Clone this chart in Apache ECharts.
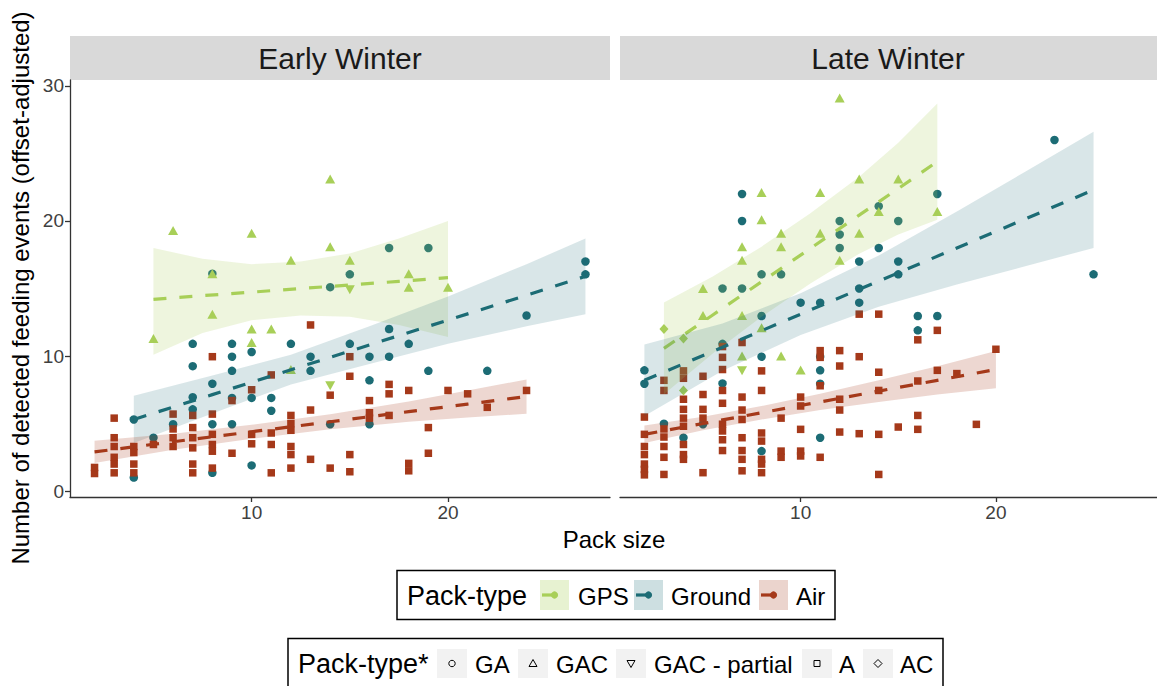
<!DOCTYPE html>
<html><head><meta charset="utf-8">
<script src="https://cdn.jsdelivr.net/npm/echarts@6/dist/echarts.min.js"></script>
<style>html,body{margin:0;padding:0;background:#fff}#c{width:1157px;height:686px}</style>
</head><body><div id="c"></div>
<script>
// ---------- data ----------
const panelTitles = ['Early Winter', 'Late Winter'];
const xTicks = [10, 20];
const yTicks = [0, 10, 20, 30];
const packTypes = ['GPS', 'Ground', 'Air'];
const packTypesStar = ['GA', 'GAC', 'GAC - partial', 'A', 'AC'];

// Early winter points
const early_GPS_GAC = [[5,11.3],[6,19.3],[8,13.1],[8,16.1],[10,19.1],[10,12.0],[10,11.0],[11,12.0],[12,17.1],[12,9.0],[14,23.1],[14,18.1],[15,17.1],[18,16.1],[18,15.1],[20,15.1]];
const early_GPS_GACp = [[14,7.8],[15,14.9]];
const early_GPS_AC = [];
const early_Ground_GA = [[4,5.3],[4,1.0],[5,3.95],[6,4.95],[7,10.9],[7,9.25],[7,6.95],[7,6.05],[8,16.1],[8,7.95],[8,4.95],[8,1.35],[9,10.9],[9,9.95],[9,8.9],[9,6.9],[9,4.95],[10,10.3],[10,6.9],[10,1.9],[11,6.9],[11,5.95],[12,10.9],[13,9.95],[13,8.9],[14,15.1],[14,4.95],[15,16.05],[15,10.9],[16,9.95],[16,8.2],[16,4.95],[17,18.0],[17,12.0],[17,9.95],[18,10.9],[19,18.0],[19,8.9],[22,8.9],[24,13.0],[27,17.0],[27,16.05]];
const early_Air_A = [[2,1.3],[2,1.75],[3,5.4],[3,3.95],[3,3.3],[3,2.5],[3,2.0],[3,1.35],[4,3.3],[4,2.85],[4,2.0],[4,1.35],[5,3.45],[6,5.7],[6,4.6],[6,3.95],[6,3.3],[7,5.6],[7,4.7],[7,3.95],[7,3.2],[7,2.0],[7,1.35],[8,9.95],[8,5.7],[8,4.2],[8,3.45],[8,2.95],[8,1.7],[9,6.7],[9,2.8],[10,7.5],[10,4.2],[10,3.5],[11,8.6],[11,4.3],[11,3.45],[11,1.35],[12,5.6],[12,5.0],[12,4.5],[12,3.3],[12,2.7],[12,1.7],[13,12.3],[13,6.0],[13,2.35],[14,7.1],[14,1.7],[15,9.95],[15,8.5],[15,2.7],[15,1.43],[16,6.7],[16,5.8],[16,5.4],[17,7.9],[17,7.2],[17,5.6],[18,7.45],[18,2.05],[18,1.5],[19,4.7],[19,2.8],[20,7.45],[21,7.2],[22,6.2],[24,7.45]];

// Late winter points
const late_GPS_GAC = [[5,15.0],[5,13.0],[7,18.1],[7,17.1],[7,13.0],[7,10.0],[8,22.1],[8,20.1],[8,12.1],[9,19.1],[9,18.1],[9,10.0],[10,8.96],[11,22.1],[11,19.1],[12,29.1],[12,17.1],[13,23.1],[13,19.1],[14,20.7],[15,23.1],[17,20.7]];
const late_GPS_GACp = [[7,8.9]];
const late_GPS_AC = [[3,12.0],[4,11.3],[4,7.45]];
const late_Ground_GA = [[2,8.94],[2,7.95],[3,4.99],[4,3.95],[5,4.95],[6,15.0],[6,10.9],[6,7.97],[7,22.0],[7,20.0],[7,15.0],[8,16.05],[8,12.96],[8,9.95],[8,2.96],[9,16.05],[10,13.95],[11,13.95],[11,9.95],[11,8.94],[11,7.95],[11,3.95],[12,20.0],[12,19.0],[12,18.0],[13,17.0],[13,15.0],[13,13.95],[14,21.1],[14,18.0],[15,20.0],[15,17.0],[15,16.05],[16,12.96],[16,11.9],[17,22.0],[17,12.96],[23,26.0],[25,16.05]];
const late_Air_A = [[2,5.48],[2,4.2],[2,3.3],[2,2.7],[2,2.0],[2,1.6],[2,1.2],[3,8.2],[3,7.45],[3,4.6],[3,4.0],[3,3.3],[3,2.5],[3,1.23],[4,8.9],[4,8.35],[4,6.8],[4,6.05],[4,5.4],[4,4.8],[4,3.45],[4,2.7],[4,2.35],[5,8.5],[5,7.15],[5,6.05],[5,5.4],[5,1.36],[6,10.7],[6,9.9],[6,9.0],[6,7.45],[6,6.5],[6,4.95],[6,4.45],[6,3.8],[6,3.0],[7,11.0],[7,6.96],[7,6.0],[7,5.3],[7,3.95],[7,3.0],[7,2.35],[7,1.5],[8,8.9],[8,7.45],[8,4.3],[8,3.7],[8,2.35],[8,2.0],[8,1.36],[9,5.4],[9,2.96],[9,2.5],[10,6.96],[10,6.3],[10,4.57],[10,2.96],[10,2.6],[11,10.4],[11,9.9],[11,7.8],[11,2.5],[12,10.4],[12,9.26],[12,6.8],[12,6.0],[12,4.37],[13,13.1],[13,9.95],[13,4.25],[14,13.1],[14,8.8],[14,7.45],[14,4.2],[14,1.23],[15,4.74],[16,11.2],[16,8.15],[16,5.6],[16,4.57],[17,11.9],[17,8.94],[18,8.7],[19,4.94],[20,10.5]];

// Fitted trends and confidence bands
const early_GPS_bx  = [5, 7.5, 10, 12.5, 15, 17.5, 20];
const early_GPS_fit = [14.2, 14.47, 14.73, 15.0, 15.26, 15.53, 15.8];
const early_GPS_lo  = [10.1, 11.7, 12.65, 13.0, 12.9, 12.3, 11.4];
const early_GPS_hi  = [18.0, 17.2, 16.8, 17.0, 17.6, 18.7, 20.0];

const early_Ground_bx  = [4, 8, 12, 16, 20, 24, 27];
const early_Ground_fit = [5.3, 7.14, 8.98, 10.82, 12.66, 14.5, 15.9];
const early_Ground_lo  = [3.55, 5.75, 7.9, 9.4, 10.9, 12.2, 13.1];
const early_Ground_hi  = [7.05, 8.55, 10.1, 12.2, 14.4, 16.8, 18.7];

const early_Air_bx  = [2, 6, 10, 14, 18, 21, 24];
const early_Air_fit = [2.9, 3.65, 4.39, 5.13, 5.88, 6.44, 7.0];
const early_Air_lo  = [2.07, 3.05, 3.87, 4.58, 5.13, 5.44, 5.73];
const early_Air_hi  = [3.73, 4.25, 4.91, 5.68, 6.63, 7.44, 8.27];

const late_GPS_bx  = [3, 5.5, 8, 10.5, 13, 15, 17];
const late_GPS_fit = [10.57, 13.04, 15.5, 17.97, 20.43, 22.4, 24.4];
const late_GPS_lo  = [7.17, 10.19, 12.9, 15.37, 17.58, 19.0, 20.1];
const late_GPS_hi  = [13.97, 15.89, 18.1, 20.57, 23.28, 25.8, 28.7];

const late_Ground_bx  = [2, 6, 10, 14, 18, 21.5, 25];
const late_Ground_fit = [8.2, 10.65, 13.1, 15.55, 18.0, 20.15, 22.3];
const late_Ground_lo  = [5.55, 8.9, 11.55, 13.65, 15.3, 16.65, 18.0];
const late_Ground_hi  = [10.85, 12.4, 14.65, 17.45, 20.7, 23.65, 26.6];

const late_Air_bx  = [2, 5, 8, 11, 14, 17, 20];
const late_Air_fit = [4.2, 5.0, 5.8, 6.6, 7.4, 8.2, 9.0];
const late_Air_lo  = [3.55, 4.5, 5.3, 6.0, 6.6, 7.15, 7.62];
const late_Air_hi  = [4.85, 5.5, 6.3, 7.2, 8.2, 9.25, 10.38];

// ---------- styling ----------
const FONT = "'Liberation Sans', Arial, Helvetica, sans-serif";
const COL = { GPS: '#a8cf58', Ground: '#1c6c75', Air: '#a5391a' };
const BAND = { GPS: 'rgba(168,207,88,0.2)', Ground: 'rgba(28,108,117,0.17)', Air: 'rgba(165,57,26,0.2)' };
const KEYBG = { GPS: 'rgba(168,207,88,0.28)', Ground: 'rgba(28,108,117,0.22)', Air: 'rgba(165,57,26,0.22)' };
const XMIN = 0.75, XMAX = 28.25, YMIN = -0.44, YMAX = 30.44;

const chart = echarts.init(document.getElementById('c'), null, { renderer: 'svg' });

function pts(name, g, data, symbol, size, color, rotate) {
  return { name, type: 'scatter', xAxisIndex: g, yAxisIndex: g, data, symbol, symbolSize: size,
    symbolRotate: rotate || 0, z: 2, silent: true,
    itemStyle: { color, opacity: 1 } };
}
function band(g, xs, lo, hi, fill, z) {
  return { type: 'custom', xAxisIndex: g, yAxisIndex: g, z, silent: true,
    data: [[xs[0], lo[0]]],
    renderItem: (params, api) => {
      const p = [];
      for (let i = 0; i < xs.length; i++) p.push(api.coord([xs[i], hi[i]]));
      for (let i = xs.length - 1; i >= 0; i--) p.push(api.coord([xs[i], lo[i]]));
      return { type: 'polygon', shape: { points: p }, style: { fill } };
    } };
}
function fit(name, g, xs, ys, color, z) {
  return { name, type: 'line', xAxisIndex: g, yAxisIndex: g, z, silent: true,
    data: xs.map((x, i) => [x, ys[i]]), showSymbol: false, symbol: 'none',
    lineStyle: { color, width: 3.2, type: [13, 13] } };
}

const series = [
  // Early points
  pts('GA', 0, early_Ground_GA, 'circle', 8.5, COL.Ground),
  pts('A', 0, early_Air_A, 'rect', 7.5, COL.Air),
  pts('GAC', 0, early_GPS_GAC, 'triangle', [10, 9], COL.GPS),
  pts('GAC - partial', 0, early_GPS_GACp, 'triangle', [10, 9], COL.GPS, 180),
  pts('AC', 0, early_GPS_AC, 'diamond', [9, 10], COL.GPS),
  // Late points
  pts('GA', 1, late_Ground_GA, 'circle', 8.5, COL.Ground),
  pts('A', 1, late_Air_A, 'rect', 7.5, COL.Air),
  pts('GAC', 1, late_GPS_GAC, 'triangle', [10, 9], COL.GPS),
  pts('GAC - partial', 1, late_GPS_GACp, 'triangle', [10, 9], COL.GPS, 180),
  pts('AC', 1, late_GPS_AC, 'diamond', [9, 10], COL.GPS),
  // Bands & fits (drawn over the points)
  band(0, early_GPS_bx, early_GPS_lo, early_GPS_hi, BAND.GPS, 3),
  fit('GPS', 0, early_GPS_bx, early_GPS_fit, COL.GPS, 4),
  band(0, early_Ground_bx, early_Ground_lo, early_Ground_hi, BAND.Ground, 5),
  fit('Ground', 0, early_Ground_bx, early_Ground_fit, COL.Ground, 6),
  band(0, early_Air_bx, early_Air_lo, early_Air_hi, BAND.Air, 7),
  fit('Air', 0, early_Air_bx, early_Air_fit, COL.Air, 8),
  band(1, late_GPS_bx, late_GPS_lo, late_GPS_hi, BAND.GPS, 3),
  fit('GPS', 1, late_GPS_bx, late_GPS_fit, COL.GPS, 4),
  band(1, late_Ground_bx, late_Ground_lo, late_Ground_hi, BAND.Ground, 5),
  fit('Ground', 1, late_Ground_bx, late_Ground_fit, COL.Ground, 6),
  band(1, late_Air_bx, late_Air_lo, late_Air_hi, BAND.Air, 7),
  fit('Air', 1, late_Air_bx, late_Air_fit, COL.Air, 8)
];

function xAxis(g) {
  return { gridIndex: g, type: 'value', min: XMIN, max: XMAX, splitLine: { show: false },
    axisLine: { onZero: false, lineStyle: { color: '#333', width: 1.3 } },
    axisTick: { customValues: xTicks, length: 5, lineStyle: { color: '#333', width: 1.3 } },
    axisLabel: { customValues: xTicks, fontSize: 19, color: '#404040', margin: 6, fontFamily: FONT } };
}
function yAxis(g) {
  return { gridIndex: g, type: 'value', min: YMIN, max: YMAX, splitLine: { show: false }, show: g === 0,
    axisLine: { onZero: false, lineStyle: { color: '#333', width: 1.3 } },
    axisTick: { customValues: yTicks, length: 5, lineStyle: { color: '#333', width: 1.3 } },
    axisLabel: { customValues: yTicks, fontSize: 19, color: '#404040', margin: 6, fontFamily: FONT } };
}

// ---------- graphic: strips, titles, legends ----------
const G = [];
const stripX = [[70, 540], [620, 540]];
panelTitles.forEach((t, i) => {
  G.push({ type: 'rect', shape: { x: stripX[i][0], y: 36, width: stripX[i][1], height: 44 }, style: { fill: '#d9d9d9' }, silent: true });
  G.push({ type: 'text', x: stripX[i][0] + (i === 0 ? 270 : 268), y: 58, style: { text: t, font: `30px ${FONT}`, fill: '#1a1a1a', textAlign: 'center', textVerticalAlign: 'middle' } });
});
G.push({ type: 'text', x: 20, y: 288, rotation: Math.PI / 2, style: { text: 'Number of detected feeding events (offset-adjusted)', font: `24px ${FONT}`, fill: '#000', textAlign: 'center', textVerticalAlign: 'middle' } });
G.push({ type: 'text', x: 614, y: 539, style: { text: 'Pack size', font: `24px ${FONT}`, fill: '#000', textAlign: 'center', textVerticalAlign: 'middle' } });

// legend 1: Pack-type
G.push({ type: 'rect', shape: { x: 397, y: 570.5, width: 438, height: 49 }, style: { fill: 'none', stroke: '#000', lineWidth: 1.5 } });
G.push({ type: 'text', x: 407, y: 596, style: { text: 'Pack-type', font: `27px ${FONT}`, fill: '#000', textVerticalAlign: 'middle' } });
const leg1Key = [540, 634, 759];
const leg1Txt = [578, 671, 796];
packTypes.forEach((p, i) => {
  const kx = leg1Key[i];
  G.push({ type: 'rect', shape: { x: kx, y: 580, width: 29, height: 30 }, style: { fill: KEYBG[p] } });
  G.push({ type: 'line', shape: { x1: kx + 2, y1: 595, x2: kx + 14.5, y2: 595 }, style: { stroke: COL[p], lineWidth: 3.2 } });
  G.push({ type: 'circle', shape: { cx: kx + 14.5, cy: 595, r: 3.6 }, style: { fill: COL[p] } });
  G.push({ type: 'text', x: leg1Txt[i], y: 596, style: { text: p, font: `24px ${FONT}`, fill: '#000', textVerticalAlign: 'middle' } });
});

// legend 2: Pack-type*
G.push({ type: 'rect', shape: { x: 288, y: 638.5, width: 655, height: 52 }, style: { fill: 'none', stroke: '#000', lineWidth: 1.5 } });
G.push({ type: 'text', x: 298, y: 664, style: { text: 'Pack-type*', font: `27px ${FONT}`, fill: '#000', textVerticalAlign: 'middle' } });
const leg2Key = [437, 518, 616, 802, 863];
const leg2Txt = [475, 556, 654, 839, 900];
const kcy = 663.5;
packTypesStar.forEach((p, i) => {
  const kx = leg2Key[i], cx = kx + 15;
  G.push({ type: 'rect', shape: { x: kx, y: 649, width: 30, height: 29 }, style: { fill: '#f2f2f2' } });
  const st = { fill: 'none', stroke: '#000', lineWidth: 1 };
  if (i === 0) G.push({ type: 'circle', shape: { cx, cy: kcy, r: 3.2 }, style: st });
  if (i === 1) G.push({ type: 'polygon', shape: { points: [[cx, kcy - 4], [cx + 4, kcy + 3], [cx - 4, kcy + 3]] }, style: st });
  if (i === 2) G.push({ type: 'polygon', shape: { points: [[cx, kcy + 4], [cx + 4, kcy - 3], [cx - 4, kcy - 3]] }, style: st });
  if (i === 3) G.push({ type: 'rect', shape: { x: cx - 3, y: kcy - 3, width: 6, height: 6 }, style: st });
  if (i === 4) G.push({ type: 'polygon', shape: { points: [[cx, kcy - 4], [cx + 4, kcy], [cx, kcy + 4], [cx - 4, kcy]] }, style: st });
  G.push({ type: 'text', x: leg2Txt[i], y: 664, style: { text: p, font: `24px ${FONT}`, fill: '#000', textVerticalAlign: 'middle' } });
});

chart.setOption({
  animation: false,
  backgroundColor: '#fff',
  textStyle: { fontFamily: FONT },
  grid: [
    { left: 70, top: 80, width: 540, height: 417 },
    { left: 620, top: 80, width: 540, height: 417 }
  ],
  xAxis: [xAxis(0), xAxis(1)],
  yAxis: [yAxis(0), yAxis(1)],
  series,
  graphic: { elements: G }
});
</script>
</body></html>
